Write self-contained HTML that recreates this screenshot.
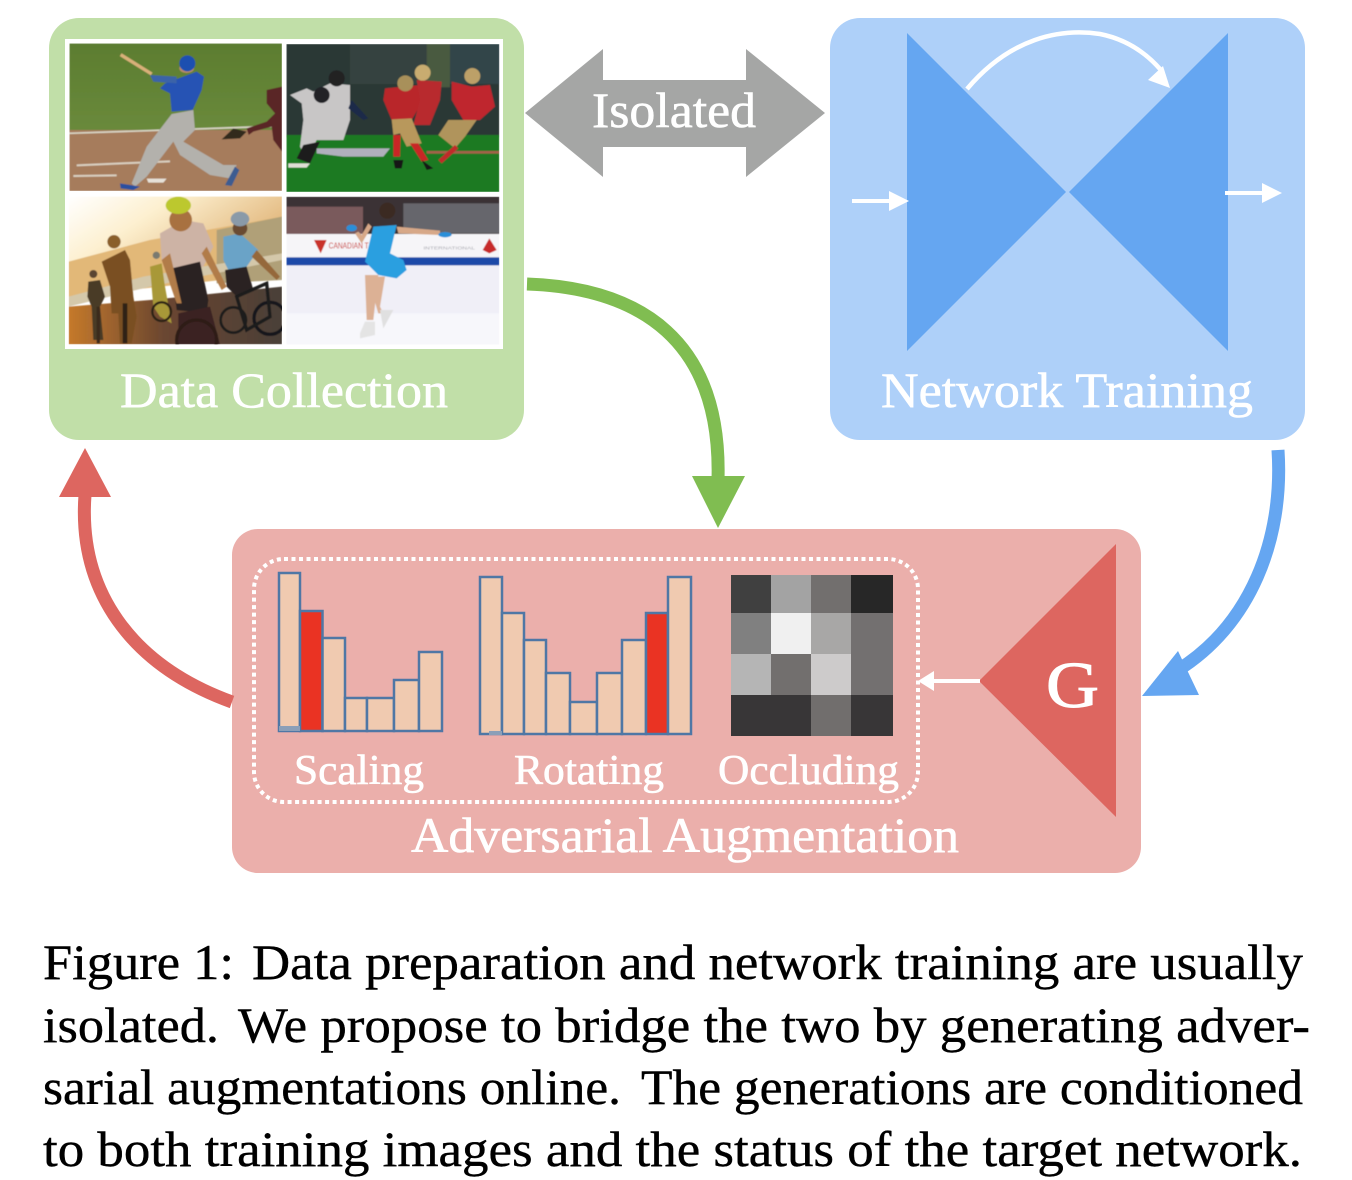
<!DOCTYPE html>
<html lang="en">
<head>
<meta charset="utf-8">
<title>Figure 1</title>
<style>
html,body{margin:0;padding:0;background:#fff;width:1352px;height:1180px;overflow:hidden}
svg{display:block}
text{font-family:"Liberation Serif",serif}
.w{fill:#fff;stroke:#fff;stroke-width:.6}
</style>
</head>
<body>
<svg width="1352" height="1180" viewBox="0 0 1352 1180" xmlns="http://www.w3.org/2000/svg">
<defs>
<filter id="b" x="-5%" y="-5%" width="110%" height="110%"><feGaussianBlur stdDeviation="1.6"/></filter>
<linearGradient id="sun" x1="0" y1="0" x2="1" y2="0.5"><stop offset="0" stop-color="#fff"/><stop offset=".4" stop-color="#fdf0d0"/><stop offset="1" stop-color="#e0b478"/></linearGradient>
<linearGradient id="road" x1="0" y1="0" x2="1" y2="0"><stop offset="0" stop-color="#c5792c"/><stop offset=".45" stop-color="#6a4630"/><stop offset="1" stop-color="#4a4038"/></linearGradient>
<linearGradient id="grass" x1="0" y1="0" x2="0" y2="1"><stop offset="0" stop-color="#5c7d30"/><stop offset="1" stop-color="#6a8a3c"/></linearGradient>
<clipPath id="c1"><rect x="58" y="70" width="638" height="443"/></clipPath>
<clipPath id="c2"><rect x="709" y="72" width="639" height="444"/></clipPath>
<clipPath id="c3"><rect x="56" y="529" width="640" height="444"/></clipPath>
<clipPath id="c4"><rect x="709" y="530" width="639" height="444"/></clipPath>
</defs>

<!-- Green panel -->
<rect x="49" y="18" width="475" height="422" rx="30" fill="#c1dfa8"/>
<rect x="65" y="39" width="438" height="310" fill="#fff"/>

<g transform="translate(50,20) scale(.33333)">
<!-- baseball -->
<g clip-path="url(#c1)"><g filter="url(#b)">
<rect x="58" y="70" width="638" height="265" fill="url(#grass)"/>
<rect x="58" y="330" width="638" height="183" fill="#a67c5c"/>
<path d="M58 340L696 318" stroke="#d8d4c4" stroke-width="5"/>
<path d="M80 436L360 424M70 468L200 466" stroke="#d9cfc0" stroke-width="6"/>
<path d="M290 476H350L340 488H295Z" fill="#e6e1d8"/>
<path d="M212 104L305 162" stroke="#d9b079" stroke-width="10"/>
<path d="M345 190L440 155L462 170L455 210L428 270L365 275L360 220L330 205Z" fill="#2653b4"/>
<path d="M300 165L380 170L380 190L310 185Z" fill="#3a64a8"/>
<ellipse cx="410" cy="145" rx="22" ry="14" fill="#b58a6a"/>
<circle cx="412" cy="130" r="24" fill="#1f4fb0"/>
<path d="M365 282L430 270L435 330L400 365L520 435L560 435L540 475L480 465L390 405L370 365L290 470L255 500L245 490L290 380Z" fill="#b3b1ac"/>
<path d="M210 490L270 500L250 510L212 505Z" fill="#2950a0"/>
<path d="M525 495L555 440L568 450L545 498Z" fill="#3e5c90"/>
<path d="M650 210L696 200V395L670 360L665 320L610 335L596 345L590 325L650 305L675 280L650 250Z" fill="#5a2828"/>
<path d="M515 358L550 325L590 335L570 355Z" fill="#33291f"/>
</g></g>

<!-- football -->
<g clip-path="url(#c2)"><g filter="url(#b)">
<rect x="709" y="72" width="639" height="280" fill="#2a3836"/>
<rect x="900" y="72" width="230" height="120" fill="#344240"/>
<rect x="1130" y="72" width="70" height="130" fill="#4a5a40"/>
<rect x="1200" y="72" width="148" height="120" fill="#33444a"/>
<rect x="709" y="345" width="639" height="171" fill="#1f7a22"/>
<rect x="1130" y="393" width="218" height="8" fill="#a2624a"/>
<path d="M750 380L760 300L755 250L720 225L770 205L790 215L840 190L900 195L900 300L880 360L800 360L770 420Z" fill="#c8c6c6"/>
<circle cx="860" cy="175" r="24" fill="#202024"/>
<circle cx="815" cy="225" r="24" fill="#202028"/>
<path d="M905 240L955 295L940 300L895 265Z" fill="#1f2b4a"/>
<path d="M715 430H780L770 443H715Z" fill="#e0ded6"/>
<path d="M740 415L760 375L810 365L780 430Z" fill="#1a1a1a"/>
<path d="M800 385H1020L1000 410H880L800 400Z" fill="#b0b0bc"/>
<path d="M1005 205L1110 195L1120 240L1085 300H1025L1000 240Z" fill="#b9252c"/>
<path d="M1100 180L1175 185L1170 240L1140 315H1090L1110 240Z" fill="#b82c2e"/>
<circle cx="1118" cy="158" r="24" fill="#c8ac70"/>
<circle cx="1066" cy="190" r="24" fill="#a8905a"/>
<path d="M1025 298L1085 295L1115 370L1070 380L1050 340L1030 345Z" fill="#b8985c"/>
<path d="M1030 345H1052L1050 410H1030ZM1080 370L1105 370L1135 420L1115 425Z" fill="#c82828"/>
<path d="M1205 185L1265 200L1320 195L1335 260L1290 300L1240 300L1205 240Z" fill="#bf282e"/>
<circle cx="1267" cy="168" r="24" fill="#bca068"/>
<path d="M1195 300H1280L1245 350L1215 385L1165 345Z" fill="#b0945c"/>
<path d="M1215 375L1165 420L1175 430L1225 385Z" fill="#c02a2a"/>
<path d="M1030 420H1060L1055 445H1035ZM1115 420L1150 445L1130 450Z" fill="#181818"/>
</g></g>

<!-- cycling -->
<g clip-path="url(#c3)"><g filter="url(#b)">
<rect x="56" y="529" width="640" height="210" fill="url(#sun)"/>
<path d="M56 725L300 660L696 590V760L56 830Z" fill="#e2b878"/>
<path d="M500 630L696 590V780L500 790Z" fill="#b0a078"/>
<path d="M56 830L280 770L696 700V720L300 800L56 860Z" fill="#d4c8aa"/>
<path d="M56 860L300 840L696 800V973H56Z" fill="url(#road)"/>
<path d="M115 785L150 780L165 830L150 860L160 960H130L125 860L112 830Z" fill="#4a3a28"/>
<circle cx="130" cy="762" r="12" fill="#5a4530"/>
<path d="M155 725L225 690L240 720L250 830L260 890L245 970H210L205 880H185L180 800Z" fill="#7a5020"/>
<circle cx="192" cy="665" r="20" fill="#8a5f2b"/>
<path d="M300 740L335 730L345 800L365 910L330 890L310 860Z" fill="#a89838"/>
<circle cx="319" cy="706" r="11" fill="#7a7a70"/>
<path d="M330 640L400 600L460 610L490 680L460 740L360 750L335 720Z" fill="#cdb3a5"/>
<path d="M365 745L450 725L475 840L470 880L380 870Z" fill="#2a2022"/>
<path d="M385 880L480 860L510 973H385Z" fill="#3a2224"/>
<circle cx="392" cy="600" r="34" fill="#a8713f"/>
<ellipse cx="385" cy="556" rx="38" ry="26" fill="#bcc82e"/>
<path d="M335 720L380 850L395 850L360 700ZM470 680L530 800L515 810L455 700Z" fill="#b17b48"/>
<path d="M520 650L570 640L625 690L590 740L540 760L520 720Z" fill="#6ba3c7"/>
<circle cx="570" cy="625" r="22" fill="#6a4c30"/>
<ellipse cx="570" cy="597" rx="28" ry="22" fill="#8a9aa8"/>
<path d="M525 750L590 740L610 810L560 830L530 800Z" fill="#2b2422"/>
<path d="M620 690L690 770L680 780L605 710Z" fill="#95683a"/>
<circle cx="660" cy="895" r="48" fill="none" stroke="#17181a" stroke-width="10"/>
<circle cx="550" cy="900" r="38" fill="none" stroke="#1b1b1d" stroke-width="8"/>
<path d="M560 830L650 790L660 890L590 930Z" fill="none" stroke="#1d1d1e" stroke-width="10"/>
<circle cx="440" cy="960" r="60" fill="none" stroke="#2d1b18" stroke-width="10"/>
<circle cx="335" cy="875" r="28" fill="none" stroke="#2a2018" stroke-width="7"/>
<path d="M225 850V970" stroke="#2e2218" stroke-width="14"/>
<path d="M145 860V970" stroke="#3a2a1c" stroke-width="10"/>
</g></g>

<!-- skating -->
<g clip-path="url(#c4)"><g filter="url(#b)">
<rect x="709" y="530" width="639" height="112" fill="#3a3335"/>
<rect x="709" y="560" width="230" height="82" fill="#7a5a5c"/>
<rect x="1060" y="550" width="288" height="90" fill="#66666c"/>
<rect x="709" y="642" width="639" height="72" fill="#f6f5f8"/>
<rect x="709" y="712" width="639" height="26" fill="#1c4aa8"/>
<rect x="709" y="736" width="639" height="238" fill="#f0eff7"/>
<rect x="709" y="880" width="639" height="94" fill="#f7f7fb"/>
<path d="M792 660H830L812 700Z" fill="#c9302c"/>
<text x="836" y="685" font-size="26" fill="#c9302c" style="font-family:'Liberation Sans',sans-serif" textLength="120" lengthAdjust="spacingAndGlyphs">CANADIAN T</text>
<text x="1120" y="688" font-size="15" fill="#a8a8b0" style="font-family:'Liberation Sans',sans-serif" textLength="155" lengthAdjust="spacingAndGlyphs">INTERNATIONAL</text>
<path d="M1318 655L1340 690L1318 700L1298 690Z" fill="#c72a2a"/>
<circle cx="1012" cy="572" r="24" fill="#3a2a24"/>
<path d="M970 620L1040 615L1020 700L1060 720L1070 750L1040 775L985 765L945 725Z" fill="#2b9fe0"/>
<path d="M1040 620L1170 632V645L1045 640Z" fill="#d7a888"/>
<path d="M965 620L935 670L915 640L925 635L935 645L955 610Z" fill="#d7a888"/>
<ellipse cx="905" cy="624" rx="16" ry="10" fill="#2b8fd8"/>
<ellipse cx="1185" cy="644" rx="20" ry="8" fill="#2b8fd8"/>
<path d="M945 765H985L970 900H950Z" fill="#dcb195"/>
<path d="M975 770H1005L990 860L1000 880H985L970 830Z" fill="#dcb195"/>
<path d="M945 905H975V945L930 955L930 940Z" fill="#e4e4e4"/>
<path d="M990 870L1030 870L1000 925Z" fill="#e0e0e0"/>
</g></g>
</g>

<!-- Data Collection label -->
<text class="w" x="120" y="407" font-size="50" textLength="328" lengthAdjust="spacingAndGlyphs">Data Collection</text>

<!-- Isolated arrow -->
<polygon points="525,113 603,49 603,80 746,80 746,49 825,113 746,177 746,147 603,147 603,177" fill="#a5a6a5"/>
<text class="w" x="592" y="127" font-size="50" textLength="164" lengthAdjust="spacingAndGlyphs">Isolated</text>

<!-- Network panel -->
<rect x="830" y="18" width="475" height="422" rx="30" fill="#aed0f9"/>
<polygon points="907,33 907,351 1066,192" fill="#65a6f1"/>
<polygon points="1228,33 1228,351 1069,192" fill="#65a6f1"/>
<path d="M967,89 C1010,38 1060,28 1100,34 C1125,39 1145,52 1160,69" fill="none" stroke="#fff" stroke-width="4.500"/>
<polygon points="1170,88 1163,66 1148,80" fill="#fff"/>
<rect x="852" y="199" width="38" height="4" fill="#fff"/>
<polygon points="889,191 889,211 909,201" fill="#fff"/>
<rect x="1225" y="191" width="38" height="4" fill="#fff"/>
<polygon points="1262,183 1262,203 1282,193" fill="#fff"/>
<text class="w" x="881" y="407" font-size="50" textLength="372" lengthAdjust="spacingAndGlyphs">Network Training</text>

<!-- Red panel -->
<rect x="232" y="529" width="909" height="344" rx="26" fill="#ebafab"/>
<rect x="254" y="559" width="664" height="243" rx="30" fill="none" stroke="#fff" stroke-width="4" stroke-dasharray="4 3.500"/>

<!-- Scaling bars -->
<g stroke="#4f77a5" stroke-width="2.500" fill="#f0cab0">
<rect x="279" y="573" width="21" height="158"/>
<rect x="300" y="611" width="22.500" height="120" fill="#ea3323"/>
<rect x="322.500" y="638" width="22.500" height="93"/>
<rect x="345" y="698" width="22" height="33"/>
<rect x="367" y="698" width="27" height="33"/>
<rect x="394" y="680" width="25" height="51"/>
<rect x="419" y="652" width="23" height="79"/>
</g>
<rect x="279" y="726" width="21" height="5" fill="#8b9fb8"/>
<!-- Rotating bars -->
<g stroke="#4f77a5" stroke-width="2.500" fill="#f0cab0">
<rect x="480" y="577" width="22" height="157"/>
<rect x="502" y="613" width="22" height="121"/>
<rect x="524" y="640" width="22" height="94"/>
<rect x="546" y="673" width="24" height="61"/>
<rect x="570" y="702" width="27" height="32"/>
<rect x="597" y="673" width="25" height="61"/>
<rect x="622" y="640" width="24" height="94"/>
<rect x="646" y="613" width="22" height="121" fill="#ea3323"/>
<rect x="668" y="577" width="23" height="157"/>
</g>
<rect x="489" y="731" width="13" height="4" fill="#8b9fb8"/>

<!-- Occluding grid -->
<g shape-rendering="crispEdges">
<rect x="731" y="575" width="40" height="38" fill="#404040"/>
<rect x="771" y="575" width="40" height="38" fill="#a3a3a3"/>
<rect x="811" y="575" width="40" height="38" fill="#726f6e"/>
<rect x="851" y="575" width="42" height="38" fill="#272727"/>
<rect x="731" y="613" width="40" height="41" fill="#808080"/>
<rect x="771" y="613" width="40" height="41" fill="#f0f0f0"/>
<rect x="811" y="613" width="40" height="41" fill="#a8a7a6"/>
<rect x="851" y="613" width="42" height="41" fill="#737070"/>
<rect x="731" y="654" width="40" height="41" fill="#b5b5b5"/>
<rect x="771" y="654" width="40" height="41" fill="#726f6e"/>
<rect x="811" y="654" width="40" height="41" fill="#cdcbcb"/>
<rect x="851" y="654" width="42" height="41" fill="#737070"/>
<rect x="731" y="695" width="80" height="41" fill="#383637"/>
<rect x="811" y="695" width="40" height="41" fill="#716e6d"/>
<rect x="851" y="695" width="42" height="41" fill="#383637"/>
</g>

<text class="w" x="294" y="784" font-size="42" textLength="130" lengthAdjust="spacingAndGlyphs">Scaling</text>
<text class="w" x="514" y="784" font-size="42" textLength="150" lengthAdjust="spacingAndGlyphs">Rotating</text>
<text class="w" x="718" y="784" font-size="42" textLength="181" lengthAdjust="spacingAndGlyphs">Occluding</text>
<text class="w" x="411" y="852" font-size="50" textLength="548" lengthAdjust="spacingAndGlyphs">Adversarial Augmentation</text>

<!-- G triangle -->
<polygon points="979,681 1116,544 1116,817" fill="#dd6660"/>
<text class="w" x="1046" y="707" font-size="66" style="stroke-width:1" textLength="53" lengthAdjust="spacingAndGlyphs">G</text>
<rect x="932" y="679" width="48" height="4" fill="#fff"/>
<polygon points="918,681 934,671 934,691" fill="#fff"/>

<!-- Big connectors -->
<path d="M527,284 C640,288 722,340 718,480" fill="none" stroke="#80bd51" stroke-width="13"/>
<polygon points="692,476 745,476 718,528" fill="#80bd51"/>
<path d="M1278,450 C1284,540 1250,625 1178,670" fill="none" stroke="#65a6f1" stroke-width="13"/>
<polygon points="1142,696 1199,695 1178,651" fill="#65a6f1"/>
<path d="M232,702 C130,665 78,590 85,495" fill="none" stroke="#dd6660" stroke-width="13"/>
<polygon points="85,448 59,497 111,497" fill="#dd6660"/>

<!-- Caption -->
<g font-size="50" fill="#000" stroke="#000" stroke-width=".4">
<text x="43" y="979" textLength="191" lengthAdjust="spacingAndGlyphs">Figure 1:</text>
<text x="252" y="979" textLength="1051" lengthAdjust="spacingAndGlyphs">Data preparation and network training are usually</text>
<text x="43" y="1042" textLength="176" lengthAdjust="spacingAndGlyphs">isolated.</text>
<text x="238" y="1042" textLength="1072" lengthAdjust="spacingAndGlyphs">We propose to bridge the two by generating adver-</text>
<text x="43" y="1104" textLength="578" lengthAdjust="spacingAndGlyphs">sarial augmentations online.</text>
<text x="641" y="1104" textLength="662" lengthAdjust="spacingAndGlyphs">The generations are conditioned</text>
<text x="43" y="1166" textLength="1259" lengthAdjust="spacingAndGlyphs">to both training images and the status of the target network.</text>
</g>
</svg>
</body>
</html>
